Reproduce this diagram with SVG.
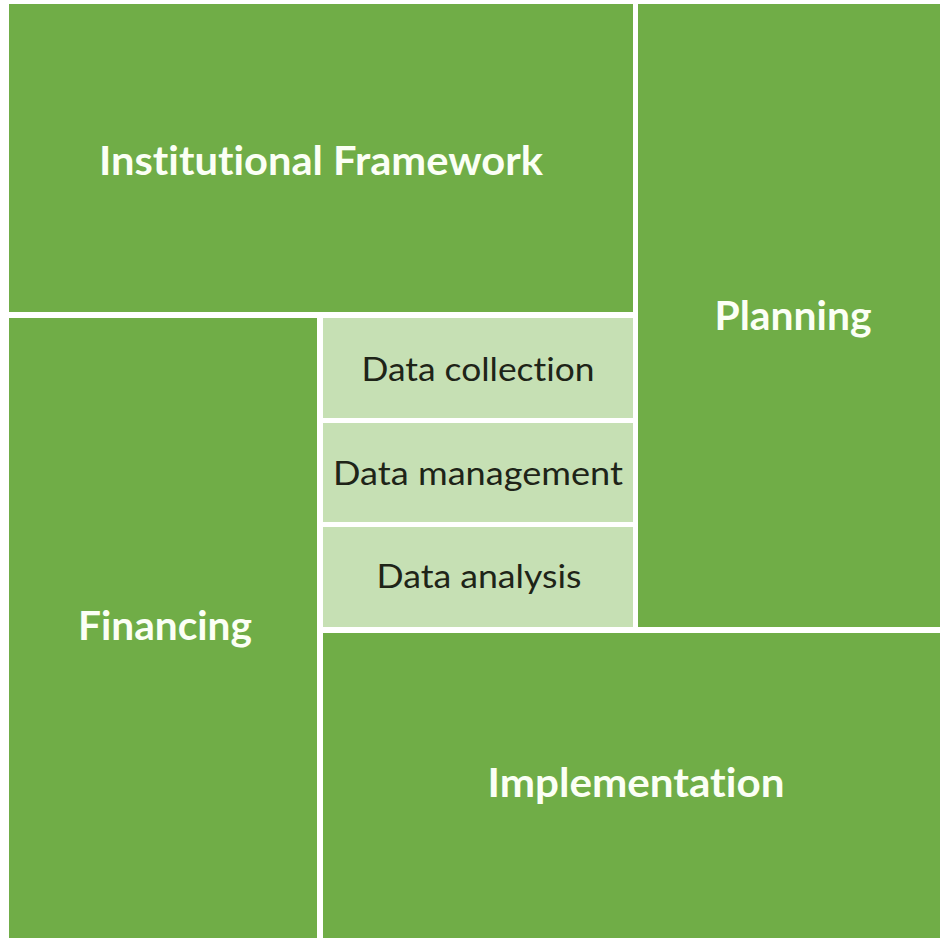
<svg xmlns="http://www.w3.org/2000/svg" width="940" height="938" viewBox="0 0 940 938">
<style>
.dark{fill:#70AD47;}
.light{fill:#C6E0B4;}
text{font-variant-ligatures:none;font-feature-settings:"liga" 0,"clig" 0;}
.big{font-family:Lato,"Liberation Sans",sans-serif;font-weight:bold;font-size:40px;fill:#FBFFF5;text-anchor:middle;}
.small{font-family:Lato,"Liberation Sans",sans-serif;font-size:32px;fill:#1E2418;text-anchor:middle;}
</style>
<rect width="940" height="938" fill="#FFFFFF"/>
<g id="institutional-framework">
<rect class="dark" x="9" y="4" width="624" height="308"/>
<text class="big" x="321" y="175" textLength="444" lengthAdjust="spacingAndGlyphs">Institutional Framework</text>
</g>
<g id="planning">
<rect class="dark" x="638" y="4" width="302" height="623"/>
<text class="big" x="793" y="330" textLength="157" lengthAdjust="spacingAndGlyphs">Planning</text>
</g>
<g id="financing">
<rect class="dark" x="9" y="318" width="308" height="620"/>
<text class="big" x="165" y="640" textLength="174" lengthAdjust="spacingAndGlyphs">Financing</text>
</g>
<g id="implementation">
<rect class="dark" x="323" y="633" width="617" height="305"/>
<text class="big" x="636" y="797" textLength="297" lengthAdjust="spacingAndGlyphs">Implementation</text>
</g>
<g id="data-collection">
<rect class="light" x="323" y="318" width="310" height="100"/>
<text class="small" x="478" y="381" textLength="233" lengthAdjust="spacingAndGlyphs">Data collection</text>
</g>
<g id="data-management">
<rect class="light" x="323" y="423" width="310" height="99"/>
<text class="small" x="478" y="485" textLength="290" lengthAdjust="spacingAndGlyphs">Data management</text>
</g>
<g id="data-analysis">
<rect class="light" x="323" y="527" width="310" height="100"/>
<text class="small" x="479" y="588" textLength="205" lengthAdjust="spacingAndGlyphs">Data analysis</text>
</g>
<g id="connectors"></g>
</svg>
